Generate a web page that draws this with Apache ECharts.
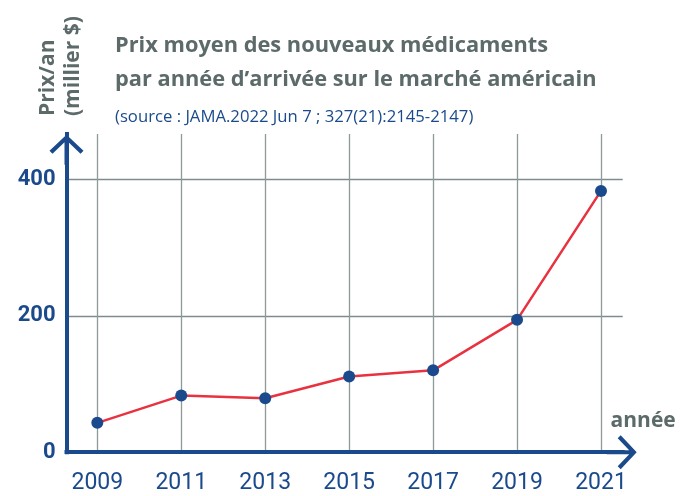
<!DOCTYPE html>
<html>
<head>
<meta charset="utf-8">
<script src="https://cdn.jsdelivr.net/npm/echarts@6/dist/echarts.min.js"></script>
<style>
  html, body { margin: 0; padding: 0; background: #fff; }
  #chart { width: 680px; height: 496px; }
</style>
</head>
<body>
<div id="chart"></div>
<script>
// données
var years = [2009, 2011, 2013, 2015, 2017, 2019, 2021];
var prices = [43, 83, 79, 111, 120, 194, 383];   // milliers de $ / an
var yTicks = [0, 200, 400];

var blue = '#1b4a8c';
var gray = '#5d6a6a';
var red = '#e8323f';

// fleche ouverte (chevron + tige), pointe vers le haut
var arrowPath = 'path://M17,0 L34,16 L31,19 L19,7.5 L19,30 L15,30 L15,7.5 L3,19 L0,16 Z';

var myChart = echarts.init(document.getElementById('chart'));

var seriesData = [];
for (var i = 0; i < years.length; i++) {
    seriesData.push([years[i], prices[i]]);
}

var option = {
    backgroundColor: '#fff',
    animation: false,
    title: [{
        text: 'Prix moyen des nouveaux médicaments\npar année d\u2019arrivée sur le marché américain',
        left: 110,
        top: 24,
        textStyle: {
            fontFamily: 'Open Sans',
            fontWeight: 'bold',
            fontSize: 21.8,
            lineHeight: 34,
            color: gray
        }
    }, {
        text: '(source : JAMA.2022 Jun 7 ; 327(21):2145-2147)',
        left: 110,
        top: 104,
        textStyle: {
            fontFamily: 'Open Sans',
            fontWeight: 'normal',
            fontSize: 16.7,
            color: blue
        }
    }],
    graphic: [{
        type: 'text',
        x: 61,
        y: 116,
        rotation: Math.PI / 2,
        style: {
            text: 'Prix/an\n(millier $)',
            font: 'bold 21px "Open Sans"',
            fill: gray,
            align: 'left',
            verticalAlign: 'middle',
            lineHeight: 25
        }
    }],
    grid: {
        left: 66.5,
        right: 57.3,
        top: 134,
        bottom: 43.8
    },
    xAxis: {
        type: 'value',
        min: 2008.266,
        max: 2021.517,
        name: 'année',
        nameLocation: 'end',
        nameGap: 53,
        nameTextStyle: {
            fontFamily: 'Open Sans',
            fontWeight: 'bold',
            fontSize: 21,
            color: gray,
            align: 'right',
            verticalAlign: 'bottom',
            padding: [0, 0, 21, 0]
        },
        axisLine: {
            lineStyle: { color: blue, width: 4, cap: 'square' },
            symbol: ['none', arrowPath],
            symbolSize: [34, 30],
            symbolOffset: [0, -1]
        },
        axisTick: { show: false, customValues: years },
        axisLabel: {
            customValues: years,
            margin: 20,
            fontFamily: 'Roboto',
            fontSize: 23,
            color: blue,
            formatter: function (v) { return String(v); }
        },
        splitLine: {
            show: true,
            lineStyle: { color: '#8e9a9a', width: 1.3 }
        }
    },
    yAxis: {
        type: 'value',
        min: 0,
        max: 466.4,
        axisLine: {
            show: true,
            lineStyle: { color: blue, width: 4, cap: 'square' },
            symbol: ['none', arrowPath],
            symbolSize: [34, 30],
            symbolOffset: [0, -15.7]
        },
        axisTick: { show: false, customValues: yTicks },
        axisLabel: {
            customValues: yTicks,
            margin: 11,
            fontFamily: 'Roboto',
            fontWeight: 'bold',
            fontSize: 22,
            color: blue
        },
        splitLine: {
            show: true,
            lineStyle: { color: '#7f8c8c', width: 1.3 }
        }
    },
    series: [{
        name: 'Prix',
        type: 'line',
        data: seriesData,
        symbol: 'circle',
        symbolSize: 12,
        lineStyle: { color: red, width: 2.5 },
        itemStyle: { color: blue },
        z: 5
    }]
};

myChart.setOption(option);
</script>
</body>
</html>
